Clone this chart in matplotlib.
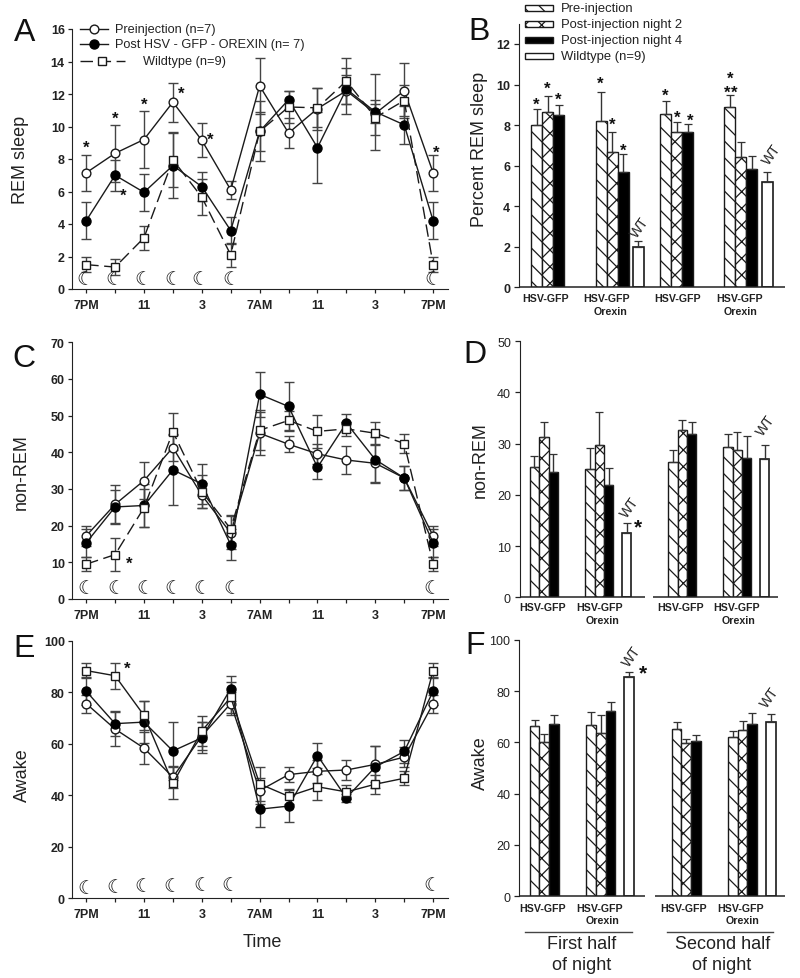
import matplotlib
matplotlib.use("Agg")
import matplotlib.pyplot as plt
from matplotlib.lines import Line2D
from matplotlib.patches import Rectangle

W, H = 800, 979
INK = "#222222"
plt.rcParams["font.family"] = ["Liberation Sans", "DejaVu Sans"]
plt.rcParams["hatch.linewidth"] = 0.9
plt.rcParams["text.color"] = INK

# ---------- data: time course ----------
hours = list(range(13))
hour_labels = ["7PM", "", "11", "", "3", "", "7AM", "", "11", "", "3", "", "7PM"]

rem_pre = [7.15, 8.35, 9.2, 11.5, 9.15, 6.1, 12.5, 9.6, 11.1, 12.2, 10.8, 12.2, 7.15]
rem_pre_err = [1.1, 1.75, 1.75, 1.2, 1.05, 0.55, 1.7, 0.95, 1.3, 1.4, 0.6, 1.7, 1.1]
rem_post = [4.2, 7.0, 5.95, 7.6, 6.3, 3.6, 9.7, 11.65, 8.7, 12.3, 10.9, 10.1, 4.2]
rem_post_err = [1.15, 0.95, 1.15, 2.0, 0.9, 0.85, 1.2, 0.55, 2.2, 0.9, 2.35, 1.15, 1.15]
rem_wt = [1.5, 1.35, 3.15, 7.95, 5.65, 2.1, 9.7, 11.2, 11.15, 12.8, 10.55, 11.6, 1.5]
rem_wt_err = [0.45, 0.5, 0.75, 1.7, 1.1, 0.75, 1.85, 1.0, 1.2, 1.4, 1.1, 0.95, 0.45]

nrem_pre = [17.2, 25.8, 32.3, 41.3, 28.3, 18.0, 45.2, 42.2, 39.6, 37.9, 37.0, 33.0, 17.2]
nrem_pre_err = [2.7, 5.3, 5.1, 3.6, 3.4, 4.5, 5.8, 2.2, 2.8, 3.7, 5.2, 3.2, 2.7]
nrem_post = [15.3, 25.1, 25.5, 35.2, 31.4, 14.8, 55.8, 52.5, 35.9, 48.0, 38.0, 33.0, 15.3]
nrem_post_err = [3.8, 4.5, 5.9, 9.5, 5.5, 4.2, 6.2, 6.7, 3.1, 2.5, 6.3, 3.2, 3.8]
nrem_wt = [9.5, 12.1, 24.9, 45.6, 29.3, 19.1, 46.0, 48.7, 45.7, 46.4, 45.2, 42.4, 9.5]
nrem_wt_err = [2.0, 4.4, 5.2, 5.0, 4.5, 3.7, 5.5, 2.5, 4.4, 2.0, 3.2, 2.7, 2.0]

wake_pre = [75.6, 65.7, 58.3, 47.0, 63.0, 75.6, 41.8, 48.0, 49.3, 49.8, 52.0, 54.8, 75.6]
wake_pre_err = [3.5, 6.6, 6.3, 4.2, 5.5, 4.3, 5.0, 2.8, 4.5, 4.0, 7.0, 4.0, 3.5]
wake_post = [80.4, 67.8, 68.4, 57.2, 62.3, 81.4, 34.6, 35.8, 55.4, 39.0, 51.0, 57.0, 80.4]
wake_post_err = [5.5, 4.8, 8.0, 11.1, 6.0, 5.0, 7.0, 6.3, 5.0, 1.5, 8.0, 4.3, 5.5]
wake_wt = [88.4, 86.4, 71.0, 44.6, 65.0, 78.0, 44.4, 39.6, 43.3, 41.3, 44.3, 46.6, 88.4]
wake_wt_err = [2.8, 5.1, 5.6, 6.2, 5.7, 6.0, 6.5, 3.0, 5.0, 2.8, 3.7, 2.7, 2.8]

# ---------- data: bar panels (each group: pre, night 2, night 4) ----------
b_first_gfp = [8.0, 8.65, 8.5];      b_first_gfp_err = [0.8, 0.8, 0.5]
b_first_orx = [8.2, 6.65, 5.7];      b_first_orx_err = [1.45, 1.0, 0.85]
b_second_gfp = [8.55, 7.65, 7.65];   b_second_gfp_err = [0.65, 0.5, 0.4]
b_second_orx = [8.9, 6.45, 5.85];    b_second_orx_err = [0.6, 0.7, 0.65]
b_wt = [2.0, 5.2];                   b_wt_err = [0.28, 0.5]

d_first_gfp = [25.5, 31.3, 24.5];    d_first_gfp_err = [2.1, 2.9, 3.4]
d_first_orx = [25.1, 29.8, 22.0];    d_first_orx_err = [4.0, 6.4, 3.3]
d_second_gfp = [26.3, 32.7, 31.8];   d_second_gfp_err = [2.4, 1.9, 2.4]
d_second_orx = [29.4, 28.7, 27.2];   d_second_orx_err = [2.4, 3.6, 4.2]
d_wt = [12.6, 27.0];                 d_wt_err = [1.9, 2.8]

f_first_gfp = [66.4, 60.2, 67.0];    f_first_gfp_err = [2.4, 3.2, 3.6]
f_first_orx = [66.6, 63.7, 72.2];    f_first_orx_err = [5.2, 6.8, 3.6]
f_second_gfp = [65.3, 59.8, 60.7];   f_second_gfp_err = [2.6, 1.5, 2.2]
f_second_orx = [62.0, 65.0, 67.0];   f_second_orx_err = [2.3, 3.3, 4.5]
f_wt = [85.6, 68.0];                 f_wt_err = [1.9, 3.0]

group_label = "HSV-GFP"
orexin_label = "Orexin"
series_labels = ["Preinjection (n=7)", "Post HSV - GFP - OREXIN (n= 7)", "Wildtype (n=9)"]
bar_labels = ["Pre-injection", "Post-injection night 2", "Post-injection night 4", "Wildtype (n=9)"]

fig = plt.figure(figsize=(W / 100, H / 100), dpi=100)


def make_axes(left, right, top, bottom):
    ax = fig.add_axes([left / W, 1 - bottom / H, (right - left) / W, (bottom - top) / H])
    ax.spines[["top", "right"]].set_visible(False)
    ax.spines["left"].set_color(INK)
    ax.spines["bottom"].set_color(INK)
    ax.patch.set_alpha(0)
    return ax


def ftext(x, y, s, **kw):
    kw.setdefault("ha", "center")
    kw.setdefault("va", "center")
    fig.text(x / W, 1 - y / H, s, **kw)


def star(x, y, size=12):
    # asterisk glyph sits in the top of its box, hence the offset
    ftext(x, y + 2.5, "*", fontsize=size, fontweight="bold", color="#111111")


def moon(x, y):
    ftext(x, y, "\u263e", fontsize=14, family="DejaVu Sans", fontweight="bold", color="#111111")


def line_panel(top, bottom, ymax, step, series):
    ax = make_axes(71.7, 447.6, top, bottom)
    ax.set_xlim(-0.5, 12.5)
    ax.set_ylim(0, ymax)
    styles = series["styles"]
    for (v, e), st in zip(series["data"], styles):
        ax.errorbar(hours, v, yerr=e, color="#1a1a1a", lw=1.0, ecolor="#444444", elinewidth=1.0,
                    capsize=3.4, capthick=0.9, clip_on=False, **st)
    ax.set_xticks(hours)
    ax.set_xticklabels(hour_labels, fontsize=9, fontweight="bold")
    ax.set_yticks(range(0, ymax + 1, step))
    ax.tick_params(axis="y", labelsize=9, length=3, width=0.9, pad=2, colors=INK)
    ax.tick_params(axis="x", length=3, width=0.9, pad=4, colors=INK)
    for t in ax.get_yticklabels():
        t.set_fontweight("bold")
    return ax


pre_style = dict(marker="o", ms=6.3, mfc="white", mec="#1a1a1a", mew=1.0)
post_style = dict(marker="o", ms=6.5, mfc="black", mec="black", mew=1.0)
wt_dash = dict(marker="s", ms=5.2, mfc="white", mec="#1a1a1a", mew=1.0, linestyle=(0, (9, 4)))
wt_solid = dict(marker="s", ms=5.2, mfc="white", mec="#1a1a1a", mew=1.0)

line_panel(30, 290, 16, 2, dict(
    data=[(rem_pre, rem_pre_err), (rem_post, rem_post_err), (rem_wt, rem_wt_err)],
    styles=[pre_style, post_style, wt_dash]))
line_panel(343.3, 600, 70, 10, dict(
    data=[(nrem_pre, nrem_pre_err), (nrem_post, nrem_post_err), (nrem_wt, nrem_wt_err)],
    styles=[pre_style, post_style, wt_dash]))
line_panel(641.7, 899.3, 100, 20, dict(
    data=[(wake_pre, wake_pre_err), (wake_post, wake_post_err), (wake_wt, wake_wt_err)],
    styles=[pre_style, post_style, wt_solid]))


def bar_panel(left, right, top, bottom, ymax, step, groups, wt, wt_err, starts, wt_starts, width,
              baseline, bold):
    ax = make_axes(left, right, top, bottom)
    ax.set_xlim(left, right)
    ax.set_ylim(0, ymax)
    ax.spines["bottom"].set_visible(False)
    ax.set_xticks([])
    for (vals, errs), x0 in zip(groups, starts):
        xs = [x0 + i * width for i in range(3)]
        looks = [dict(facecolor="white", hatch="\\\\"), dict(facecolor="white", hatch="xx"),
                 dict(facecolor="black")]
        for x, v, lk in zip(xs, vals, looks):
            ax.bar(x, v, width=width, align="edge", edgecolor="#1a1a1a", linewidth=1.0, **lk)
        ax.errorbar([x + width / 2 for x in xs], vals, yerr=[[0] * 3, errs], fmt="none",
                    ecolor="#333333", elinewidth=1.0, capsize=3.0, capthick=0.9)
    for x, v, e in zip(wt_starts, wt, wt_err):
        ax.bar(x, v, width=width, align="edge", facecolor="white", edgecolor="#1a1a1a", linewidth=1.2)
        ax.errorbar([x + width / 2], [v], yerr=[[0], [e]], fmt="none", ecolor="#333333",
                    elinewidth=1.0, capsize=3.0, capthick=0.9)
    for a, b in baseline:
        ax.plot([a, b], [0, 0], color=INK, lw=1.1, clip_on=False, solid_capstyle="butt")
    ax.set_yticks(range(0, ymax + 1, step))
    ax.tick_params(axis="y", labelsize=9, length=3.5, width=0.9, pad=3, colors=INK)
    if bold:
        for t in ax.get_yticklabels():
            t.set_fontweight("bold")
    return ax


bar_panel(519.3, 785, 24.7, 288.3, 13, 2,
          [(b_first_gfp, b_first_gfp_err), (b_first_orx, b_first_orx_err),
           (b_second_gfp, b_second_gfp_err), (b_second_orx, b_second_orx_err)],
          b_wt, b_wt_err, [531, 595.7, 660, 724.3], [632.7, 761.7], 11,
          [(519.3, 785)], True)
ax_d = bar_panel(520, 778, 342, 598.3, 50, 10,
                 [(d_first_gfp, d_first_gfp_err), (d_first_orx, d_first_orx_err),
                  (d_second_gfp, d_second_gfp_err), (d_second_orx, d_second_orx_err)],
                 d_wt, d_wt_err, [529.7, 585.3, 668.3, 723.3], [622, 760], 9.4,
                 [(520, 645), (652.7, 778)], False)
ax_f = bar_panel(519.3, 785, 640.7, 897.3, 100, 20,
                 [(f_first_gfp, f_first_gfp_err), (f_first_orx, f_first_orx_err),
                  (f_second_gfp, f_second_gfp_err), (f_second_orx, f_second_orx_err)],
                 f_wt, f_wt_err, [529.7, 586.3, 671.7, 728], [624, 766], 9.7,
                 [(519.3, 645), (655, 785)], False)

# panel letters
for s, x, y in [("A", 25, 33), ("B", 479, 32), ("C", 24, 359), ("D", 475, 355),
                ("E", 24, 649), ("F", 475, 646)]:
    ftext(x, y, s, fontsize=23, color="#111111")

# axis titles
for s, x, y in [("REM sleep", 21, 160), ("Percent REM sleep", 480, 149), ("non-REM", 21, 472),
                ("non-REM", 480, 460), ("Awake", 22, 775), ("Awake", 480, 763)]:
    ftext(x, y, s, fontsize=13, rotation=90)
ftext(262, 943, "Time", fontsize=13)

# group labels under the bars
for xs, ys, xo, yo in [
    ((546, 607, 678, 740), 299, (610, 740), 312),
    ((543, 600, 681, 737), 608, (602, 739), 621),
    ((543, 600, 684, 741), 909, (602, 743), 921),
]:
    for x in xs:
        ftext(x, ys, group_label, fontsize=7.7, fontweight="bold")
    for x in xo:
        ftext(x, yo, orexin_label, fontsize=7.7, fontweight="bold")

# WT tags
for x, y in [(640, 228), (772, 155), (630, 508), (766, 426), (632, 657), (770, 698)]:
    ftext(x, y, "WT", fontsize=10, rotation=55)

# half of night brackets
for x0, x1, cx, cx2 in [(525, 632, 582, 582), (667, 773, 723, 722)]:
    fig.add_artist(Line2D([x0 / W, x1 / W], [1 - 933 / H] * 2, color="#444444", lw=1.0))
    ftext(cx, 945, "First half" if x0 < 600 else "Second half", fontsize=13)
    ftext(cx2, 966, "of night", fontsize=13)

# line panel legend
for i, (y, st, lbl, x0, x1, tx) in enumerate([
    (30, pre_style, series_labels[0], 80, 108, 115),
    (45, post_style, series_labels[1], 80, 108, 115),
    (62, wt_dash, series_labels[2], 80, 125, 143),
]):
    kw = dict(st)
    kw.pop("linestyle", None)
    fig.add_artist(Line2D([x0 / W, x1 / W], [1 - y / H] * 2, color="#1a1a1a", lw=1.0,
                          linestyle=st.get("linestyle", "-")))
    fig.add_artist(Line2D([(x0 + x1) / 2 / W], [1 - y / H], linestyle="none", **kw))
    ftext(tx, y, lbl, fontsize=9.2, ha="left")

# bar legend
for y, lk, lbl in zip([9, 25, 41, 57],
                      [dict(facecolor="white", hatch="\\\\"), dict(facecolor="white", hatch="xx"),
                       dict(facecolor="black"), dict(facecolor="white")], bar_labels):
    fig.add_artist(Rectangle((525 / W, 1 - (y + 3) / H), 28 / W, 6 / H, transform=fig.transFigure,
                             edgecolor="#1a1a1a", linewidth=1.0, **lk))
    ftext(561, y, lbl, fontsize=9.4, ha="left")

# significance stars
stars = [(85.7, 146), (114.7, 117), (144, 103), (181, 92), (210, 138), (123.3, 194), (436, 151),
         (129, 562), (127, 667),
         (535.7, 103), (547.3, 87), (557.7, 98), (600.3, 82), (612.3, 123), (623, 149),
         (665, 94), (677, 116), (690.3, 119), (730, 77), (726.7, 91), (734.3, 91)]
for x, y in stars:
    star(x, y)
star(638.3, 525.7, 15)
star(642.7, 671, 15)

# moon markers
for x in (85, 114, 142.7, 173.3, 200, 230.7, 432.7):
    moon(x, 279.5)
for x in (86, 116, 144.7, 173.3, 202.3, 231.7, 432):
    moon(x, 588.3)
for x, y in zip((85.7, 114.7, 143.3, 171.7, 201.7, 230, 431.7),
                (888.3, 887.7, 886.7, 886.7, 886, 885.3, 885.7)):
    moon(x, y)

fig.savefig("out.png", dpi=100)
